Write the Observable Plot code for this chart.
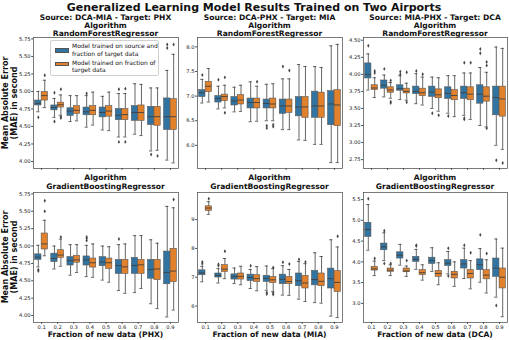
<!DOCTYPE html>
<html><head><meta charset="utf-8">
<script src="https://cdn.jsdelivr.net/npm/d3@7"></script>
<script src="https://cdn.jsdelivr.net/npm/@observablehq/plot@0.6"></script>
<style>
body{margin:0;background:#fff}
#chart{position:relative;width:509px;height:340px;font-family:"DejaVu Sans",sans-serif;color:#111;overflow:hidden;background:#fff}
.t{position:absolute;white-space:pre;line-height:1;transform:translate(-50%,-50%);text-align:center}
</style>
</head><body><div id="chart"></div>
<script>
// ---------- data ----------
const fractions = ["0.1","0.2","0.3","0.4","0.5","0.6","0.7","0.8","0.9"];
const seriesNames = ["Model trained on source and\nfraction of target data", "Model trained on fraction of\ntarget data"];
const seriesColors = ["#3274a1", "#e1812c"];
const mainTitle = "Generalized Learning Model Results Trained on Two Airports";
const sourceTitles = ["Source: DCA-MIA - Target: PHX", "Source: DCA-PHX - Target: MIA", "Source: MIA-PHX - Target: DCA"];
const algorithms = ["RandomForestRegressor", "GradientBoostingRegressor"];
const xTitles = ["Fraction of new data (PHX)", "Fraction of new data (MIA)", "Fraction of new data (DCA)"];
const yTitle = "Mean Absolute Error\n(MAE) in second";

// each entry: [lower whisker, q1, median, q3, upper whisker]
const rfPHX_src = [[4.71,4.80,4.83,4.87,5.00],[4.63,4.73,4.77,4.80,4.90],[4.57,4.65,4.72,4.76,4.94],[4.49,4.66,4.71,4.77,4.94],[4.45,4.63,4.70,4.77,4.93],[4.35,4.59,4.66,4.75,4.97],[4.39,4.58,4.70,4.79,5.11],[4.15,4.52,4.64,4.78,5.05],[4.02,4.45,4.64,4.90,5.30]];
const rfPHX_tgt = [[4.77,4.87,4.94,4.99,5.16],[4.66,4.77,4.81,4.84,4.95],[4.58,4.68,4.73,4.79,4.94],[4.52,4.66,4.73,4.79,4.99],[4.44,4.64,4.72,4.79,4.99],[4.35,4.59,4.67,4.75,4.97],[4.37,4.58,4.70,4.80,5.10],[4.16,4.51,4.64,4.78,5.05],[3.98,4.45,4.64,4.89,5.53]];
const rfPHX_srcOut = [[4.63],[4.98,4.57],[],[4.97],[],[5.03,4.28],[],[4.10],[5.67,5.62]];
const rfPHX_tgtOut = [[5.23],[5.03,4.64,4.62],[],[],[],[5.04,4.28],[],[4.08],[5.67]];

const rfMIA_src = [[6.86,6.98,7.07,7.12,7.34],[6.74,6.87,6.95,7.00,7.20],[6.68,6.81,6.90,6.98,7.18],[6.48,6.75,6.87,6.95,7.29],[6.50,6.75,6.85,6.93,7.24],[6.32,6.64,6.80,6.93,7.35],[6.11,6.59,6.78,6.98,7.64],[6.02,6.56,6.80,7.09,7.60],[5.65,6.41,6.84,7.10,8.02]];
const rfMIA_tgt = [[6.88,7.08,7.20,7.29,7.56],[6.76,6.90,6.99,7.03,7.22],[6.69,6.83,6.92,7.02,7.22],[6.49,6.75,6.87,6.95,7.20],[6.50,6.75,6.84,6.95,7.25],[6.32,6.66,6.80,6.93,7.35],[6.10,6.56,6.78,6.98,7.60],[6.02,6.56,6.80,7.07,7.58],[5.65,6.39,6.82,7.12,8.05]];
const rfMIA_srcOut = [[7.43],[7.33],[],[],[6.35,6.40],[7.60],[],[],[]];
const rfMIA_tgtOut = [[],[7.38,6.66],[],[7.29],[6.38,6.42],[7.52],[],[],[]];

const rfDCA_src = [[3.77,3.94,4.00,4.16,4.30],[3.67,3.79,3.84,3.91,3.99],[3.63,3.76,3.79,3.84,3.98],[3.57,3.71,3.75,3.82,4.01],[3.50,3.67,3.74,3.82,3.96],[3.43,3.64,3.72,3.81,3.98],[3.40,3.64,3.73,3.82,4.02],[3.25,3.57,3.71,3.84,4.10],[2.96,3.40,3.66,3.82,4.40]];
const rfDCA_tgt = [[3.66,3.77,3.80,3.84,3.95],[3.65,3.73,3.77,3.81,3.88],[3.62,3.72,3.75,3.79,3.87],[3.55,3.68,3.73,3.79,3.96],[3.46,3.65,3.70,3.78,3.95],[3.38,3.62,3.69,3.77,3.98],[3.34,3.62,3.71,3.81,4.02],[3.23,3.60,3.68,3.81,4.03],[2.90,3.38,3.64,3.82,4.38]];
const rfDCA_srcOut = [[4.42],[4.08],[4.04,4.00],[4.05],[3.43],[3.39],[4.17,3.36,3.34],[4.37,4.31],[2.74]];
const rfDCA_tgtOut = [[4.02,4.05],[3.91,3.60,3.58],[4.03,3.59],[4.00],[3.40],[],[4.17],[4.18,4.13,3.21],[2.70]];

const gbPHX_src = [[4.70,4.80,4.84,4.88,5.01],[4.67,4.77,4.82,4.89,5.00],[4.58,4.72,4.79,4.84,5.02],[4.56,4.72,4.80,4.85,5.01],[4.51,4.71,4.77,4.84,5.00],[4.36,4.60,4.72,4.80,5.02],[4.33,4.60,4.72,4.83,5.15],[4.17,4.53,4.66,4.80,5.09],[3.98,4.45,4.62,4.92,5.57]];
const gbPHX_tgt = [[4.86,4.95,5.03,5.18,5.37],[4.71,4.83,4.87,4.94,5.10],[4.62,4.76,4.80,4.86,5.02],[4.55,4.69,4.76,4.82,5.03],[4.48,4.67,4.76,4.82,4.99],[4.32,4.60,4.70,4.80,5.03],[4.39,4.60,4.73,4.80,5.15],[4.10,4.51,4.67,4.80,5.04],[4.08,4.48,4.64,4.96,5.55]];
const gbPHX_srcOut = [[4.66,4.64],[],[],[5.08,5.11,5.13],[],[5.10],[],[],[]];
const gbPHX_tgtOut = [[5.50,5.65],[5.13],[],[],[],[],[],[],[5.67]];

const gbMIA_src = [[6.84,7.07,7.15,7.24,7.38],[6.80,6.99,7.06,7.13,7.30],[6.78,6.92,7.02,7.10,7.32],[6.61,6.87,6.99,7.09,7.27],[6.55,6.84,6.96,7.05,7.39],[6.38,6.76,6.93,7.09,7.40],[6.24,6.69,6.88,7.13,7.55],[6.12,6.72,6.92,7.22,7.85],[5.65,6.61,6.95,7.30,8.30]];
const gbMIA_tgt = [[9.18,9.30,9.40,9.46,9.62],[6.95,7.18,7.28,7.42,7.65],[6.74,6.92,7.03,7.13,7.38],[6.53,6.84,6.95,7.07,7.37],[6.50,6.80,6.91,7.01,7.30],[6.37,6.76,6.85,7.01,7.27],[6.16,6.61,6.80,7.05,7.47],[6.10,6.69,6.86,7.13,7.72],[5.60,6.49,6.82,7.21,8.05]];
const gbMIA_srcOut = [[7.47,7.53],[7.40,7.45],[],[7.40],[6.42,6.47],[7.52],[7.62],[],[]];
const gbMIA_tgtOut = [[9.72],[7.90],[],[],[7.34,6.40,6.45],[7.46],[7.53],[],[8.42]];

const gbDCA_src = [[4.28,4.60,4.78,4.94,5.38],[4.03,4.28,4.36,4.44,4.70],[3.92,4.08,4.16,4.23,4.42],[3.82,4.00,4.06,4.12,4.30],[3.77,3.95,4.03,4.10,4.34],[3.71,3.90,3.97,4.04,4.25],[3.60,3.84,3.95,4.04,4.33],[3.51,3.80,3.93,4.06,4.32],[3.15,3.64,3.85,4.08,4.55]];
const gbDCA_tgt = [[3.67,3.79,3.83,3.88,4.02],[3.67,3.76,3.80,3.84,3.93],[3.65,3.75,3.78,3.84,3.90],[3.56,3.68,3.74,3.80,3.93],[3.45,3.64,3.72,3.78,3.98],[3.41,3.60,3.70,3.76,4.00],[3.35,3.60,3.72,3.80,4.03],[3.25,3.58,3.68,3.80,4.05],[2.68,3.36,3.63,3.84,4.33]];
const gbDCA_srcOut = [[5.52],[4.75,3.96],[],[4.38,4.40],[],[4.33,3.66],[4.40],[4.65],[2.95]];
const gbDCA_tgtOut = [[4.08],[3.96],[4.03],[],[],[],[4.22],[4.20],[]];

const yTicksPHX = [4.00,4.25,4.50,4.75,5.00,5.25,5.50,5.75];
const yTicksRfMIA = [6.0,6.5,7.0,7.5,8.0];
const yTicksRfDCA = [2.75,3.00,3.25,3.50,3.75,4.00,4.25,4.50];
const yTicksGbMIA = [6,7,8,9];
const yTicksGbDCA = [3.0,3.5,4.0,4.5,5.0,5.5];

// ---------- layout ----------
const cols = [{x:33,w:145},{x:197,w:145},{x:363,w:144}];
const rows = [{y:37,h:131},{y:192,h:130}];
const chart = document.getElementById("chart");

function addText(txt, x, y, size, weight, extra) {
  const d = document.createElement("div");
  d.className = "t";
  d.textContent = txt;
  d.style.left = x + "px"; d.style.top = y + "px";
  d.style.fontSize = size + "px"; d.style.fontWeight = weight;
  if (extra) Object.assign(d.style, extra);
  chart.appendChild(d);
  return d;
}

function drawPanel(ci, ri, src, tgt, srcOut, tgtOut, yDomain, yTicks, yFmt) {
  const C = cols[ci], R = rows[ri];
  const showX = ri === 1;
  const mL = 24, mR = 2, mT = 2, mB = showX ? 9 : 5;
  const boxes = [];
  [src, tgt].forEach((arr, s) => arr.forEach((v, i) => boxes.push({i, s, c: i + (s ? 0.2 : -0.2), lo: v[0], q1: v[1], med: v[2], q3: v[3], hi: v[4]})));
  const outs = [];
  [srcOut, tgtOut].forEach((arr, s) => arr.forEach((vals, i) => vals.forEach(v => outs.push({c: i + (s ? 0.2 : -0.2), v}))));
  const hw = 0.195, cw = 0.1;
  const line = "#3f3f3f";
  const svg = Plot.plot({
    width: C.w + mL + mR, height: R.h + mT + mB,
    marginLeft: mL, marginRight: mR, marginTop: mT, marginBottom: mB,
    x: {domain: [-0.5, 8.5]},
    y: {domain: yDomain},
    style: {fontFamily: "DejaVu Sans", fontSize: "5.2px", color: "#222", background: "transparent", overflow: "visible"},
    marks: [
      Plot.ruleX(boxes, {x: "c", y1: "lo", y2: "q1", stroke: line, strokeWidth: 0.8}),
      Plot.ruleX(boxes, {x: "c", y1: "q3", y2: "hi", stroke: line, strokeWidth: 0.8}),
      Plot.ruleY(boxes, {y: "lo", x1: d => d.c - cw, x2: d => d.c + cw, stroke: line, strokeWidth: 0.8}),
      Plot.ruleY(boxes, {y: "hi", x1: d => d.c - cw, x2: d => d.c + cw, stroke: line, strokeWidth: 0.8}),
      Plot.rect(boxes, {x1: d => d.c - hw, x2: d => d.c + hw, y1: "q1", y2: "q3", fill: d => seriesColors[d.s], stroke: "#555", strokeWidth: 0.6}),
      Plot.ruleY(boxes, {y: "med", x1: d => d.c - hw, x2: d => d.c + hw, stroke: line, strokeWidth: 0.9}),
      Plot.dot(outs, {x: "c", y: "v", symbol: "diamond", r: 1.2, fill: "#444", stroke: null}),
      Plot.frame({stroke: "#444", strokeWidth: 0.7}),
      Plot.axisX({ticks: d3.range(9), tickFormat: i => showX ? fractions[i] : "", tickSize: 1.8, tickPadding: 0.8, label: null, stroke: "#444"}),
      Plot.axisY({ticks: yTicks, tickFormat: yFmt, tickSize: 1.8, tickPadding: 1.2, label: null, stroke: "#444"})
    ]
  });
  svg.style.position = "absolute";
  svg.style.left = (C.x - mL) + "px";
  svg.style.top = (R.y - mT) + "px";
  chart.appendChild(svg);
}

const f2 = d3.format(".2f"), f1 = d3.format(".1f"), f0 = d3.format("d");
drawPanel(0, 0, rfPHX_src, rfPHX_tgt, rfPHX_srcOut, rfPHX_tgtOut, [3.90, 5.77], yTicksPHX, f2);
drawPanel(1, 0, rfMIA_src, rfMIA_tgt, rfMIA_srcOut, rfMIA_tgtOut, [5.53, 8.19], yTicksRfMIA, f1);
drawPanel(2, 0, rfDCA_src, rfDCA_tgt, rfDCA_srcOut, rfDCA_tgtOut, [2.62, 4.54], yTicksRfDCA, f2);
drawPanel(0, 1, gbPHX_src, gbPHX_tgt, gbPHX_srcOut, gbPHX_tgtOut, [3.90, 5.77], yTicksPHX, f2);
drawPanel(1, 1, gbMIA_src, gbMIA_tgt, gbMIA_srcOut, gbMIA_tgtOut, [5.43, 9.94], yTicksGbMIA, f0);
drawPanel(2, 1, gbDCA_src, gbDCA_tgt, gbDCA_srcOut, gbDCA_tgtOut, [2.54, 5.67], yTicksGbDCA, f1);

// ---------- texts ----------
addText(mainTitle, 254, 7, 11, "bold");
cols.forEach((C, ci) => {
  const cx = C.x + C.w / 2;
  addText(sourceTitles[ci], cx, 17.5, 7.6, "bold");
  addText("Algorithm", cx, 26, 7.6, "bold");
  addText(algorithms[0], cx, 34, 7.6, "bold");
  addText("Algorithm", cx, 178, 7.6, "bold");
  addText(algorithms[1], cx, 187, 7.6, "bold");
  addText(xTitles[ci], cx, 335, 7.6, "bold");
});
rows.forEach(R => {
  addText(yTitle, 9.5, R.y + R.h / 2, 8, "bold", {transform: "translate(-50%,-50%) rotate(-90deg)", lineHeight: "8.5px"});
});

// ---------- legend ----------
const lg = document.createElement("div");
Object.assign(lg.style, {position: "absolute", left: "50px", top: "40px", width: "107px", height: "34px", border: "0.8px solid #d0d0d0", borderRadius: "2px", background: "rgba(255,255,255,0.85)"});
seriesNames.forEach((name, s) => {
  const p = document.createElement("div");
  Object.assign(p.style, {position: "absolute", left: "4px", top: (s ? 20.5 : 7.2) + "px", width: "14px", height: "4.6px", background: seriesColors[s], border: "0.5px solid #555", boxSizing: "border-box"});
  lg.appendChild(p);
  const t = document.createElement("div");
  t.textContent = name;
  Object.assign(t.style, {position: "absolute", left: "21px", top: (s ? 17.6 : 1.4) + "px", fontSize: "6px", lineHeight: "7.7px", whiteSpace: "pre", color: "#111"});
  lg.appendChild(t);
});
chart.appendChild(lg);
</script></body></html>
